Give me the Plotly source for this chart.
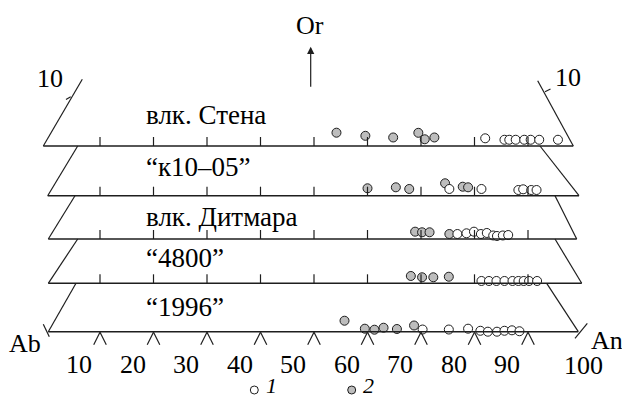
import plotly.graph_objects as go

# ---------------- data (An position along base, Or height)
panel_labels = ["влк. Стена", "“к10–05”", "влк. Дитмара", "“4800”", "“1996”"]

p1_an_2 = [54.2, 59.6, 64.8, 69.5, 70.7, 72.5]
p1_or_2 = [2.87, 2.2, 1.84, 2.85, 1.45, 1.84]
p1_an_1 = [82.0, 85.6, 86.5, 87.7, 89.3, 90.5, 92.1, 95.6]
p1_or_1 = [1.66, 1.35, 1.35, 1.35, 1.35, 1.35, 1.35, 1.35]

p2_an_2 = [60.0, 65.3, 67.8, 74.5, 77.8, 78.8]
p2_or_2 = [1.6, 1.81, 1.45, 2.68, 1.94, 1.81]
p2_an_1 = [75.3, 81.3, 88.2, 89.1, 90.6, 91.6]
p2_or_1 = [1.45, 1.45, 1.23, 1.38, 1.23, 1.23]

p3_an_2 = [68.9, 70.2, 71.6, 75.3]
p3_or_2 = [1.58, 1.45, 1.45, 1.08]
p3_an_1 = [76.8, 78.5, 79.9, 81.2, 82.3, 83.5, 84.2, 85.3, 86.3]
p3_or_1 = [1.08, 1.23, 1.58, 1.08, 1.3, 0.76, 0.65, 0.76, 0.86]

p4_an_2 = [68.1, 70.2, 72.3, 75.2]
p4_or_2 = [1.58, 1.3, 1.3, 1.42]
p4_an_1 = [81.3, 82.7, 84.1, 85.6, 87.1, 88.2, 89.2, 90.2, 91.7]
p4_or_1 = [0.5, 0.5, 0.5, 0.5, 0.5, 0.5, 0.5, 0.5, 0.5]

p5_an_2 = [55.7, 59.5, 61.3, 63.0, 65.5, 68.7]
p5_or_2 = [2.37, 0.65, 0.43, 0.86, 0.58, 1.34]
p5_an_1 = [70.3, 75.2, 78.8, 81.1, 82.5, 84.2, 85.6, 87.0, 88.4]
p5_or_1 = [0.47, 0.47, 0.65, 0.2, 0.0, 0.0, 0.2, 0.3, 0.1]

an_2 = [p1_an_2, p2_an_2, p3_an_2, p4_an_2, p5_an_2]
or_2 = [p1_or_2, p2_or_2, p3_or_2, p4_or_2, p5_or_2]
an_1 = [p1_an_1, p2_an_1, p3_an_1, p4_an_1, p5_an_1]
or_1 = [p1_or_1, p2_or_1, p3_or_1, p4_or_1, p5_or_1]

tick_values = [10, 20, 30, 40, 50, 60, 70, 80, 90]
tick_labels = ["10", "20", "30", "40", "50", "60", "70", "80", "90", "100"]

# ---------------- geometry helpers (pixel layout)
W, H = 622, 400
X0, SX = 46.5, 5.35          # An=0 pixel, pixels per unit An
SY = SX * 0.866              # pixels per unit Or (ternary height)


def px(xp):
    """pixel x -> data x"""
    return (xp - X0) / SX


base_y = [146, 195.7, 239, 283.3, 331.7]
left_x = [43.3, 47.7, 48.3, 48.3, 48.3]
right_x = [573.3, 579, 576.7, 581.7, 578.3]
ltop = [(82.3, 79.3), (77.7, 146), (75, 195.7), (77.7, 239), (76, 283.3)]
rtop = [(537.7, 80.7), (540, 146), (555, 195.7), (555, 239), (546.7, 283.3)]

LC = "#1e1e1e"
FONT = "Liberation Serif"
shapes = []


def seg(x0p, y0, x1p, y1, w=1.2):
    shapes.append(dict(type="line", xref="x", yref="y", x0=px(x0p), y0=y0,
                       x1=px(x1p), y1=y1, line=dict(color=LC, width=w)))


for i in range(5):
    b = base_y[i]
    seg(left_x[i], b, right_x[i], b, 1.5)
    seg(left_x[i], b, ltop[i][0], ltop[i][1])
    seg(right_x[i], b, rtop[i][0], rtop[i][1])
    for v in tick_values:
        xt = X0 + v * SX
        if i < 4:
            seg(xt, b, xt, b - 9)
        else:
            seg(xt - 6.3, b + 13, xt, b + 0.5)
            seg(xt, b + 0.5, xt + 6.3, b + 13)

# corner ticks and "10" ticks on the side edges
seg(43.3, 324.3, 49.3, 336.7)
seg(575, 338.3, 587.3, 323.3)
seg(70.7, 96.7, 66.0, 99.5)
seg(545, 91.7, 550.5, 89)

fig = go.Figure()

for i in range(5):
    b = base_y[i]
    fig.add_trace(go.Scatter(
        x=an_2[i], y=[b - o * SY for o in or_2[i]], mode="markers",
        marker=dict(size=9, color="#bdbdbd", line=dict(color=LC, width=1)),
        showlegend=False, hoverinfo="skip"))
for i in range(5):
    b = base_y[i]
    fig.add_trace(go.Scatter(
        x=an_1[i], y=[b - o * SY for o in or_1[i]], mode="markers",
        marker=dict(size=9, color="white", line=dict(color=LC, width=1)),
        showlegend=False, hoverinfo="skip"))

# legend markers
fig.add_trace(go.Scatter(x=[px(254.3)], y=[390], mode="markers",
                         marker=dict(size=8, color="white", line=dict(color=LC, width=1)),
                         showlegend=False, hoverinfo="skip"))
fig.add_trace(go.Scatter(x=[px(351.7)], y=[390], mode="markers",
                         marker=dict(size=8, color="#bdbdbd", line=dict(color=LC, width=1)),
                         showlegend=False, hoverinfo="skip"))

ann = []
FS = 26


def txt(xp, yp, t, size=FS, xanchor="center"):
    ann.append(dict(x=px(xp), y=yp, xref="x", yref="y", text=t, showarrow=False,
                    xanchor=xanchor, yanchor="middle",
                    font=dict(family=FONT, size=size, color="#000")))


label_y = [115, 167, 216.7, 258.3, 306.7]
for i in range(5):
    txt(144, label_y[i], panel_labels[i], size=27, xanchor="left")

for k, v in enumerate(tick_values):
    txt(X0 + v * SX - 20.6, 364, tick_labels[k])
txt(583, 365, tick_labels[-1])

txt(25, 343, "Ab")
txt(607, 340, "An")
txt(50, 78, "10")
txt(568, 77, "10")
txt(310, 25, "Or")
txt(264, 385, "<i>1</i>", size=22, xanchor="left")
txt(361, 385, "<i>2</i>", size=22, xanchor="left")

# Or arrow
ann.append(dict(x=px(310.7), y=46.7, xref="x", yref="y", ax=px(310.7), ay=88.3,
                axref="x", ayref="y", text="", showarrow=True, arrowhead=2,
                arrowsize=1.2, arrowwidth=1.2, arrowcolor=LC))

fig.update_layout(
    width=W, height=H, margin=dict(l=0, r=0, t=0, b=0),
    paper_bgcolor="white", plot_bgcolor="white",
    xaxis=dict(range=[px(0), px(W)], visible=False, fixedrange=True),
    yaxis=dict(range=[H, 0], visible=False, fixedrange=True),
    shapes=shapes, annotations=ann, showlegend=False,
)

fig.write_html("out.html")
